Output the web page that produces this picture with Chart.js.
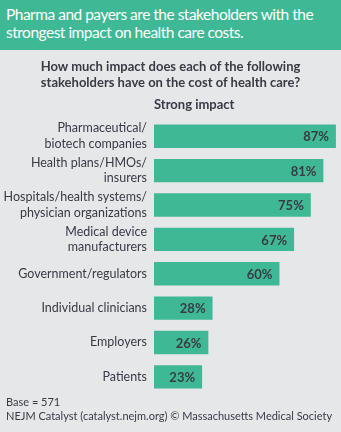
<!DOCTYPE html>
<html>
<head>
<meta charset="utf-8">
<script src="https://cdn.jsdelivr.net/npm/chart.js@4"></script>
<style>
  body { margin: 0; background: #e6e7e9; font-family: Lato, "Open Sans", sans-serif; }
  #wrap { position: relative; width: 341px; height: 432px; overflow: hidden; }
  #chart { position: absolute; left: 0; top: 0; }
  .head { position: absolute; left: 0; top: 0; width: 341px; height: 50px; background: #3fb895;
          color: #fff; font-size: 15.5px; line-height: 18px; letter-spacing: -0.5px; white-space: nowrap;
          padding: 5px 2px 4px 6px; box-sizing: border-box; }
  .q { position: absolute; left: 0; top: 58px; width: 341px; text-align: center; font-weight: bold;
       font-size: 13px; line-height: 16px; color: #3a3a45; }
  .sub { position: absolute; left: 154px; top: 96px; font-weight: bold; font-size: 13px; color: #3a3a45; }
  .foot { position: absolute; left: 6px; top: 395px; font-size: 11px; line-height: 14px; color: #3a3a45; }
</style>
</head>
<body>
<div id="wrap">
  <canvas id="chart" width="341" height="432"></canvas>
  <div class="head">Pharma and payers are the stakeholders with the<br>strongest impact on health care costs.</div>
  <div class="q">How much impact does each of the following<br>stakeholders have on the cost of health care?</div>
  <div class="sub">Strong impact</div>
  <div class="foot">Base = 571<br>NEJM Catalyst (catalyst.nejm.org) © Massachusetts Medical Society</div>
</div>
<script>
const stakeholders = [
  ["Pharmaceutical/", "biotech companies"],
  ["Health plans/HMOs/", "insurers"],
  ["Hospitals/health systems/", "physician organizations"],
  ["Medical device", "manufacturers"],
  "Government/regulators",
  "Individual clinicians",
  "Employers",
  "Patients"
];
const strongImpact = [87, 81, 75, 67, 60, 28, 26, 23];

const barColor = "#3fb895";
const textColor = "#3a3a45";

// draws the % labels inside the end of each bar
const valueLabels = {
  id: "valueLabels",
  afterDatasetsDraw(chart) {
    const ctx = chart.ctx;
    const meta = chart.getDatasetMeta(0);
    ctx.save();
    ctx.font = "bold 13px Lato, sans-serif";
    ctx.fillStyle = textColor;
    ctx.textAlign = "right";
    ctx.textBaseline = "middle";
    meta.data.forEach((bar, i) => {
      ctx.fillText(strongImpact[i] + "%", bar.x - 7, bar.y + 1);
    });
    ctx.restore();
  }
};

new Chart(document.getElementById("chart"), {
  type: "bar",
  data: {
    labels: stakeholders,
    datasets: [{
      data: strongImpact,
      backgroundColor: barColor,
      categoryPercentage: 1,
      barPercentage: 0.68
    }]
  },
  options: {
    indexAxis: "y",
    responsive: false,
    animation: false,
    layout: { padding: { top: 119, bottom: 38, right: 3, left: 0 } },
    plugins: {
      legend: { display: false },
      tooltip: { enabled: false }
    },
    scales: {
      x: {
        min: 0,
        max: 88,
        display: false
      },
      y: {
        grid: { display: false, drawTicks: false },
        border: { display: false },
        afterFit: (axis) => { axis.width = 154; },
        ticks: {
          padding: 7,
          color: textColor,
          font: { family: "Lato, sans-serif", size: 12.5, lineHeight: 1.25 },
          autoSkip: false
        }
      }
    }
  },
  plugins: [valueLabels]
});
</script>
</body>
</html>
